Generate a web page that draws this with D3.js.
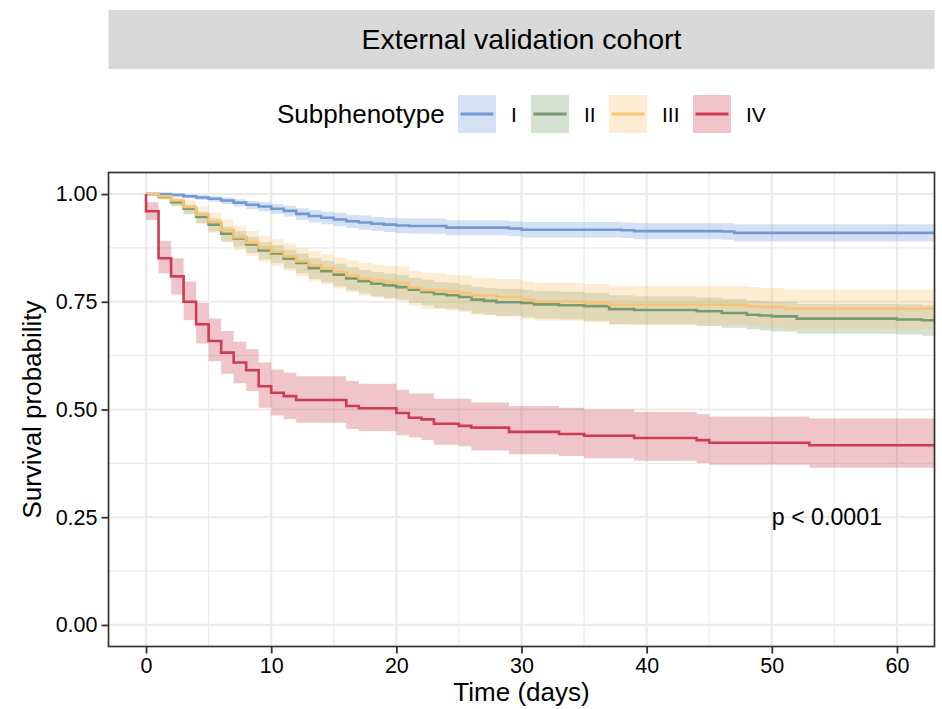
<!doctype html>
<html>
<head>
<script src="https://d3js.org/d3.v7.min.js"></script>
<style>
  body { margin: 0; background: #fff; }
  svg text { font-family: "Liberation Sans", Arial, sans-serif; fill: #000; }
</style>
</head>
<body>
<script>
// ---- data (days, survival probability, 95% CI) ----
var groups = ["I", "II", "III", "IV"];
var colors = ["#7099d8", "#789a70", "#f7c475", "#cd3c52"];

var timeI  = [0,2,3,4,5,6,7,8,9,10,11,12,13,14,15,16,17,18,19,20,21,24,29,30,38,39,46,47];
var survI  = [1,0.998,0.995,0.992,0.989,0.985,0.980,0.975,0.971,0.966,0.961,0.954,0.949,0.945,0.941,0.937,0.934,0.931,0.929,0.927,0.926,0.922,0.920,0.917,0.916,0.914,0.913,0.910];
var upperI = [1,1,0.999,0.997,0.995,0.992,0.988,0.984,0.981,0.977,0.973,0.967,0.963,0.959,0.956,0.952,0.950,0.947,0.945,0.944,0.943,0.939,0.937,0.935,0.934,0.933,0.932,0.930];
var lowerI = [1,0.995,0.990,0.986,0.982,0.977,0.971,0.965,0.960,0.954,0.948,0.940,0.934,0.930,0.925,0.921,0.917,0.914,0.912,0.909,0.908,0.904,0.902,0.899,0.898,0.895,0.894,0.890];

var timeII  = [0,1,2,3,4,5,6,7,8,9,10,11,12,13,14,15,16,17,18,19,20,21,22,23,24,25,26,27,28,30,31,33,35,37,39,44,46,48,49,50,52,60,62];
var survII  = [1,0.993,0.981,0.966,0.947,0.929,0.908,0.897,0.883,0.869,0.862,0.850,0.840,0.828,0.821,0.813,0.804,0.798,0.792,0.788,0.784,0.778,0.773,0.768,0.765,0.761,0.755,0.752,0.749,0.747,0.744,0.742,0.740,0.733,0.731,0.728,0.724,0.720,0.718,0.716,0.711,0.709,0.707];
var upperII = [1,0.997,0.988,0.976,0.959,0.943,0.924,0.914,0.901,0.888,0.882,0.871,0.862,0.851,0.845,0.838,0.830,0.824,0.819,0.815,0.812,0.806,0.801,0.796,0.794,0.790,0.785,0.782,0.780,0.778,0.775,0.773,0.771,0.765,0.763,0.760,0.757,0.753,0.751,0.750,0.745,0.744,0.742];
var lowerII = [1,0.989,0.972,0.954,0.933,0.913,0.890,0.878,0.863,0.848,0.840,0.827,0.816,0.803,0.795,0.786,0.776,0.769,0.763,0.759,0.755,0.748,0.742,0.736,0.734,0.730,0.723,0.720,0.717,0.714,0.711,0.709,0.706,0.698,0.697,0.694,0.690,0.686,0.684,0.681,0.676,0.674,0.671];

var timeIII  = [0,1,2,3,4,5,6,7,8,9,10,11,12,13,14,15,16,17,18,19,20,21,22,24,25,26,28,30,31,35,37,48,49,51];
var survIII  = [1,0.995,0.985,0.970,0.952,0.935,0.916,0.900,0.887,0.875,0.866,0.856,0.844,0.835,0.827,0.819,0.811,0.804,0.800,0.796,0.793,0.783,0.777,0.773,0.770,0.765,0.761,0.755,0.751,0.748,0.743,0.740,0.738,0.734];
var upperIII = [1,1,0.995,0.985,0.971,0.957,0.941,0.927,0.914,0.903,0.895,0.886,0.875,0.867,0.860,0.853,0.846,0.840,0.836,0.833,0.832,0.822,0.816,0.813,0.811,0.806,0.803,0.797,0.794,0.791,0.787,0.784,0.782,0.778];
var lowerIII = [1,0.987,0.972,0.952,0.930,0.910,0.888,0.870,0.856,0.843,0.833,0.822,0.809,0.799,0.790,0.781,0.772,0.764,0.760,0.755,0.752,0.740,0.733,0.729,0.726,0.720,0.716,0.710,0.706,0.702,0.697,0.693,0.691,0.687];

var timeIV  = [0,0,1,2,3,4,5,6,7,8,9,10,11,12,16,17,20,21,22,23,25,26,29,33,35,39,44,45,53];
var survIV  = [1,0.960,0.851,0.809,0.750,0.698,0.659,0.632,0.609,0.591,0.554,0.539,0.531,0.522,0.508,0.503,0.492,0.481,0.477,0.467,0.462,0.458,0.448,0.443,0.439,0.434,0.429,0.423,0.417];
var upperIV = [1,0.981,0.891,0.851,0.797,0.747,0.711,0.682,0.657,0.640,0.609,0.593,0.585,0.577,0.566,0.560,0.546,0.537,0.537,0.525,0.525,0.516,0.508,0.504,0.500,0.494,0.489,0.483,0.479];
var lowerIV = [1,0.940,0.816,0.767,0.707,0.653,0.612,0.583,0.561,0.543,0.504,0.486,0.478,0.469,0.455,0.450,0.440,0.435,0.429,0.418,0.415,0.405,0.396,0.392,0.387,0.381,0.376,0.372,0.365];

var xTicks = [0, 10, 20, 30, 40, 50, 60];
var xMinor = [5, 15, 25, 35, 45, 55];
var yTicks = [0, 0.25, 0.5, 0.75, 1];
var yMinor = [0.125, 0.375, 0.625, 0.875];

var stripTitle = "External validation cohort";
var legendTitle = "Subphenotype";
var pText = "p < 0.0001";

// ---- layout ----
var W = 942, H = 709;
var pLeft = 108.5, pRight = 934.5, pTop = 172.5, pBottom = 646.5;

var x = d3.scaleLinear().domain([-3, 63]).range([pLeft, pRight]);
var y = d3.scaleLinear().domain([-0.05, 1.05]).range([pBottom, pTop]);

var svg = d3.select("body").append("svg")
    .attr("width", W)
    .attr("height", H);

// strip
svg.append("rect")
    .attr("x", pLeft).attr("y", 10)
    .attr("width", pRight - pLeft).attr("height", 59)
    .attr("fill", "#d9d9d9");
svg.append("text")
    .attr("x", (pLeft + pRight) / 2).attr("y", 49)
    .attr("text-anchor", "middle")
    .style("font-size", "28.5px")
    .text(stripTitle);

// legend
var lg = svg.append("g");
lg.append("text")
    .attr("x", 277).attr("y", 123)
    .style("font-size", "26px")
    .text(legendTitle);
var keyX = [458, 531, 609, 693];
groups.forEach(function(g, i) {
    lg.append("rect")
        .attr("x", keyX[i]).attr("y", 95)
        .attr("width", 38).attr("height", 38)
        .attr("fill", colors[i]).attr("fill-opacity", 0.3);
    lg.append("line")
        .attr("x1", keyX[i] + 2.5).attr("x2", keyX[i] + 35.5)
        .attr("y1", 114).attr("y2", 114)
        .attr("stroke", colors[i]).attr("stroke-width", 2.8);
    lg.append("text")
        .attr("x", keyX[i] + 53).attr("y", 121.5)
        .style("font-size", "21px")
        .text(g);
});

// panel + grid
svg.append("rect")
    .attr("x", pLeft).attr("y", pTop)
    .attr("width", pRight - pLeft).attr("height", pBottom - pTop)
    .attr("fill", "#fff");

var grid = svg.append("g");
grid.selectAll(".xminor").data(xMinor).enter().append("line")
    .attr("x1", d => x(d)).attr("x2", d => x(d))
    .attr("y1", pTop).attr("y2", pBottom)
    .attr("stroke", "#ebebeb").attr("stroke-width", 1.2);
grid.selectAll(".yminor").data(yMinor).enter().append("line")
    .attr("y1", d => y(d)).attr("y2", d => y(d))
    .attr("x1", pLeft).attr("x2", pRight)
    .attr("stroke", "#ebebeb").attr("stroke-width", 1.2);
grid.selectAll(".xmajor").data(xTicks).enter().append("line")
    .attr("x1", d => x(d)).attr("x2", d => x(d))
    .attr("y1", pTop).attr("y2", pBottom)
    .attr("stroke", "#ebebeb").attr("stroke-width", 2.2);
grid.selectAll(".ymajor").data(yTicks).enter().append("line")
    .attr("y1", d => y(d)).attr("y2", d => y(d))
    .attr("x1", pLeft).attr("x2", pRight)
    .attr("stroke", "#ebebeb").attr("stroke-width", 2.2);

svg.append("clipPath").attr("id", "clip")
  .append("rect")
    .attr("x", pLeft).attr("y", pTop)
    .attr("width", pRight - pLeft).attr("height", pBottom - pTop);

var series = [
    {t: timeI,   s: survI,   u: upperI,   l: lowerI},
    {t: timeII,  s: survII,  u: upperII,  l: lowerII},
    {t: timeIII, s: survIII, u: upperIII, l: lowerIII},
    {t: timeIV,  s: survIV,  u: upperIV,  l: lowerIV}
].map(function(d, i) {
    var pts = d.t.map((t, j) => ({t: t, s: d.s[j], u: d.u[j], l: d.l[j]}));
    var last = pts[pts.length - 1];
    pts.push({t: x.domain()[1], s: last.s, u: last.u, l: last.l}); // carry last step to edge
    return {name: groups[i], color: colors[i], pts: pts};
});

var area = d3.area().curve(d3.curveStepAfter)
    .x(d => x(d.t)).y0(d => y(d.l)).y1(d => y(d.u));
var line = d3.line().curve(d3.curveStepAfter)
    .x(d => x(d.t)).y(d => y(d.s));

var plot = svg.append("g").attr("clip-path", "url(#clip)");
plot.selectAll(".band").data(series).enter().append("path")
    .attr("d", d => area(d.pts))
    .attr("fill", d => d.color).attr("fill-opacity", 0.3);
plot.selectAll(".curve").data(series).enter().append("path")
    .attr("d", d => line(d.pts))
    .attr("fill", "none")
    .attr("stroke", d => d.color).attr("stroke-width", 2.6);

// p value
svg.append("text")
    .attr("x", x(50)).attr("y", y(0.25) + 8)
    .style("font-size", "23.2px")
    .text(pText);

// border
svg.append("rect")
    .attr("x", pLeft).attr("y", pTop)
    .attr("width", pRight - pLeft).attr("height", pBottom - pTop)
    .attr("fill", "none").attr("stroke", "#333").attr("stroke-width", 1.7);

// axes
var xAxis = svg.append("g")
    .attr("transform", "translate(0," + pBottom + ")")
    .call(d3.axisBottom(x).tickValues(xTicks).tickSize(7).tickPadding(4).tickFormat(d3.format("d")));
var yAxis = svg.append("g")
    .attr("transform", "translate(" + pLeft + ",0)")
    .call(d3.axisLeft(y).tickValues(yTicks).tickSize(7).tickPadding(4).tickFormat(d3.format(".2f")));
[xAxis, yAxis].forEach(function(a) {
    a.select(".domain").remove();
    a.selectAll(".tick line").attr("stroke", "#333").attr("stroke-width", 1.8);
    a.selectAll(".tick text").attr("fill", "#000").style("font-size", "21.5px")
        .style("font-family", '"Liberation Sans", Arial, sans-serif');
});

svg.append("text")
    .attr("x", (pLeft + pRight) / 2).attr("y", 701)
    .attr("text-anchor", "middle")
    .style("font-size", "26px")
    .text("Time (days)");
svg.append("text")
    .attr("transform", "translate(41," + (pTop + pBottom) / 2 + ") rotate(-90)")
    .attr("text-anchor", "middle")
    .style("font-size", "26px")
    .text("Survival probability");
</script>
</body>
</html>
